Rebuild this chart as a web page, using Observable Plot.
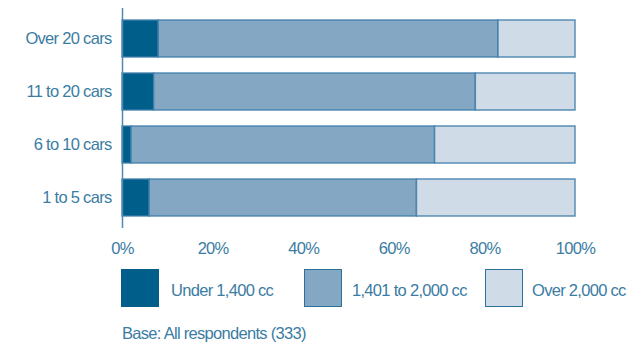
<!DOCTYPE html>
<html>
<head>
<meta charset="utf-8">
<script src="https://cdn.jsdelivr.net/npm/d3@7"></script>
<script src="https://cdn.jsdelivr.net/npm/@observablehq/plot@0.6"></script>
<style>
  html, body { margin: 0; padding: 0; background: #fff; }
  #wrap { position: relative; width: 627px; height: 349px; font-family: "Liberation Sans", Arial, sans-serif; color: #3b7ca3; letter-spacing: -0.7px; }
  #chart { position: absolute; left: 0; top: 0; }
  #chart svg text { letter-spacing: -0.7px; }
  .sw { position: absolute; top: 269px; width: 36px; height: 36px; border: 1.5px solid #2f709a; }
  .lt { position: absolute; top: 280px; font-size: 16.5px; line-height: 20px; white-space: nowrap; }
  #base { position: absolute; left: 122px; top: 323px; font-size: 16.5px; line-height: 20px; white-space: nowrap; }
</style>
</head>
<body>
<div id="wrap">
  <div id="chart"></div>
  <div class="sw" style="left:121px;background:#005f8a;border-color:#005f8a"></div>
  <div class="lt" style="left:171px">Under 1,400 cc</div>
  <div class="sw" style="left:304px;background:#84a8c4"></div>
  <div class="lt" style="left:352px">1,401 to 2,000 cc</div>
  <div class="sw" style="left:485px;background:#cfdce7"></div>
  <div class="lt" style="left:532px">Over 2,000 cc</div>
  <div id="base">Base: All respondents (333)</div>
</div>
<script>
const categories = ["Over 20 cars", "11 to 20 cars", "6 to 10 cars", "1 to 5 cars"];
const bands = ["Under 1,400 cc", "1,401 to 2,000 cc", "Over 2,000 cc"];
const under1400 = [8, 7, 2, 6];
const mid1401to2000 = [75, 71, 67, 59];
const over2000 = [17, 22, 31, 35];
const xTicks = [0, 20, 40, 60, 80, 100];
const colors = ["#005f8a", "#84a8c4", "#cfdce7"];

const series = [under1400, mid1401to2000, over2000];
const data = [];
categories.forEach((c, i) => {
  bands.forEach((b, j) => data.push({cat: c, band: b, value: series[j][i]}));
});

const plot = Plot.plot({
  width: 627,
  height: 262,
  marginLeft: 122,
  marginRight: 52,
  marginTop: 8,
  marginBottom: 34,
  style: {fontFamily: '"Liberation Sans", Arial, sans-serif', fontSize: "16.5px", color: "#3b7ca3"},
  x: {domain: [0, 100], ticks: xTicks, tickFormat: d => d + "%", tickSize: 0, tickPadding: 14, label: null},
  y: {domain: categories, paddingInner: 0.3, paddingOuter: 0.225, tickSize: 0, tickPadding: 11, label: null},
  color: {domain: bands, range: colors},
  marks: [
    Plot.barX(data, Plot.stackX({x: "value", y: "cat", fill: "band", order: bands, stroke: "#3f7eaa", strokeWidth: 1.5, strokeOpacity: 0.85})),
    Plot.ruleX([0], {stroke: "#4f89ae", strokeWidth: 1.5}),
    Plot.axisY({tickSize: 0, tickPadding: 11, fontSize: 16.5, fill: "#3b7ca3", label: null}),
    Plot.axisX({ticks: xTicks, tickFormat: d => d + "%", tickSize: 0, tickPadding: 14, fontSize: 16.5, fill: "#3b7ca3", label: null})
  ]
});
document.getElementById("chart").appendChild(plot);
</script>
</body>
</html>
